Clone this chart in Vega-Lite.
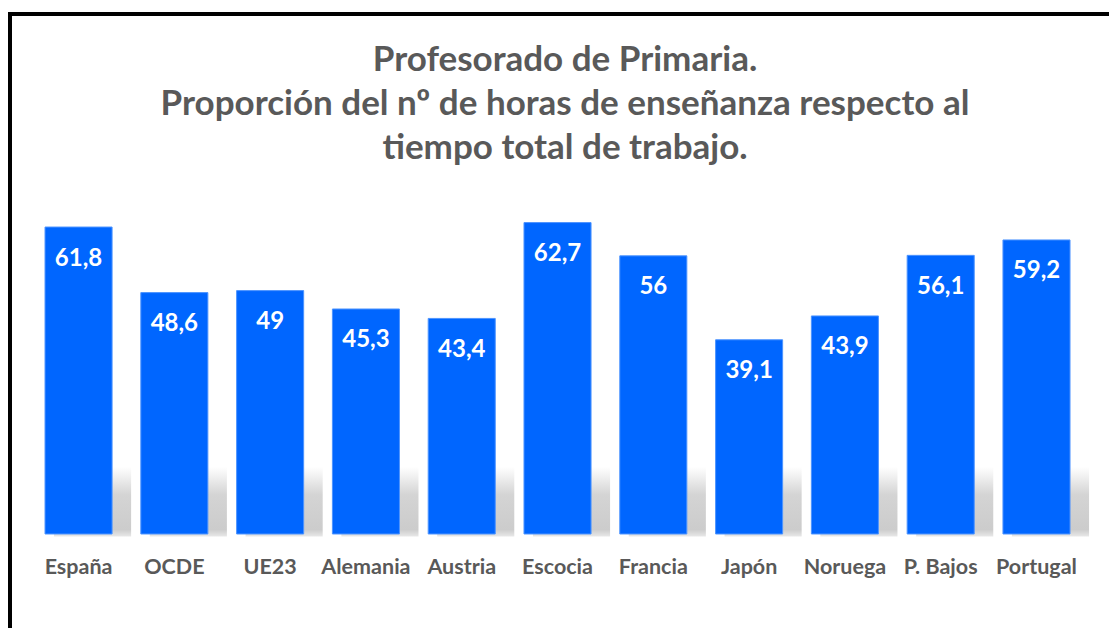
{
  "$schema": "https://vega.github.io/schema/vega-lite/v6.json",
  "width": 1110,
  "height": 625,
  "autosize": {"type": "none"},
  "padding": {"left": 10, "top": 14, "right": 0, "bottom": 0},
  "background": "#ffffff",
  "title": {
    "text": ["Profesorado de Primaria.", "Proporción del nº de horas de enseñanza respecto al", "tiempo total de trabajo."],
    "anchor": "middle",
    "frame": "group",
    "offset": -180,
    "baseline": "alphabetic",
    "lineHeight": 44,
    "font": "Lato",
    "fontSize": 35,
    "fontWeight": "bold",
    "color": "#595959"
  },
  "data": {
    "values": [
      {"pais": "España", "valor": 61.8, "etiqueta": "61,8"},
      {"pais": "OCDE", "valor": 48.6, "etiqueta": "48,6"},
      {"pais": "UE23", "valor": 49, "etiqueta": "49"},
      {"pais": "Alemania", "valor": 45.3, "etiqueta": "45,3"},
      {"pais": "Austria", "valor": 43.4, "etiqueta": "43,4"},
      {"pais": "Escocia", "valor": 62.7, "etiqueta": "62,7"},
      {"pais": "Francia", "valor": 56, "etiqueta": "56"},
      {"pais": "Japón", "valor": 39.1, "etiqueta": "39,1"},
      {"pais": "Noruega", "valor": 43.9, "etiqueta": "43,9"},
      {"pais": "P.  Bajos", "valor": 56.1, "etiqueta": "56,1"},
      {"pais": "Portugal", "valor": 59.2, "etiqueta": "59,2"}
    ]
  },
  "encoding": {
    "x": {
      "field": "pais",
      "type": "nominal",
      "sort": null,
      "scale": {"paddingInner": 0.3, "paddingOuter": 0.4437, "align": 0.412},
      "axis": {
        "title": null,
        "orient": "bottom",
        "offset": -105,
        "domain": false,
        "ticks": false,
        "tickSize": 0,
        "grid": false,
        "labelAngle": 0,
        "labelPadding": 39,
        "labelBaseline": "alphabetic",
        "labelFont": "Lato",
        "labelFontSize": 21.5,
        "labelFontWeight": "bold",
        "labelColor": "#595959",
        "labelOverlap": false
      }
    }
  },
  "layer": [
    {
      "mark": {
        "type": "bar",
        "xOffset": 14,
        "width": {"band": 1.15},
        "fill": {
          "gradient": "linear",
          "x1": 0, "y1": 0, "x2": 0, "y2": 1,
          "stops": [
            {"offset": 0, "color": "#ffffff"},
            {"offset": 0.4, "color": "#d4d4d4"},
            {"offset": 0.9, "color": "#cccccc"},
            {"offset": 1, "color": "#e8e8e8"}
          ]
        }
      },
      "encoding": {
        "y": {"datum": 13.5, "type": "quantitative", "scale": {"domain": [-21.14, 104.69]}, "axis": null},
        "y2": {"datum": -0.5}
      }
    },
    {
      "mark": {"type": "bar", "fill": "#0066ff", "stroke": "#4d94ff", "strokeWidth": 1},
      "encoding": {
        "y": {"field": "valor", "type": "quantitative", "scale": {"domain": [-21.14, 104.69]}, "axis": null},
        "y2": {"datum": 0}
      }
    },
    {
      "mark": {"type": "text", "baseline": "alphabetic", "dy": 38.5, "font": "Lato", "fontSize": 24, "fontWeight": "bold", "color": "#ffffff"},
      "encoding": {
        "y": {"field": "valor", "type": "quantitative", "scale": {"domain": [-21.14, 104.69]}, "axis": null},
        "text": {"field": "etiqueta"}
      }
    }
  ],
  "config": {
    "view": {"stroke": "#000000", "strokeWidth": 4, "fill": "#ffffff"}
  }
}
